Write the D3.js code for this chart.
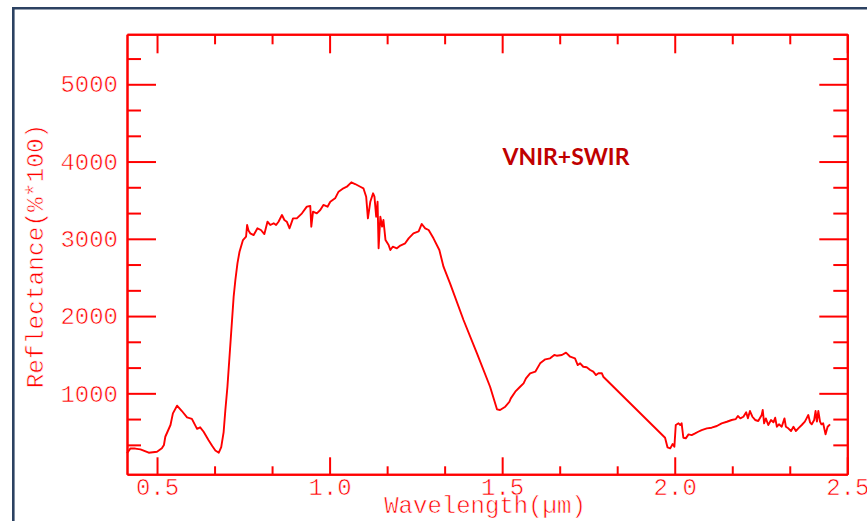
<!DOCTYPE html>
<html>
<head>
<meta charset="utf-8">
<script src="https://cdn.jsdelivr.net/npm/d3@7"></script>
<style>
  html, body { margin: 0; padding: 0; background: #ffffff; overflow: hidden; }
  svg { display: block; }
</style>
</head>
<body>
<svg id="chart" width="867" height="521"></svg>
<script>
// Reflectance spectrum, VNIR + SWIR range
const wavelength = [
  0.413,0.423,0.437,0.452,0.476,0.500,0.514,0.520,0.524,0.539,
  0.546,0.558,0.572,0.587,0.601,0.616,0.625,0.635,0.649,0.660,
  0.669,0.679,0.686,0.693,0.698,0.704,0.712,0.722,0.727,0.733,
  0.739,0.749,0.758,0.761,0.765,0.770,0.780,0.791,0.801,0.811,
  0.820,0.828,0.838,0.845,0.852,0.862,0.869,0.876,0.884,0.894,
  0.905,0.920,0.934,0.944,0.947,0.952,0.963,0.973,0.982,0.994,
  1.002,1.016,1.026,1.040,1.050,1.063,1.074,1.089,1.098,1.106,
  1.111,1.118,1.126,1.130,1.135,1.139,1.142,1.147,1.152,1.156,
  1.162,1.171,1.176,1.183,1.195,1.205,1.219,1.229,1.243,1.258,
  1.267,1.277,1.287,1.301,1.318,1.330,1.349,1.388,1.427,1.465,
  1.485,1.494,1.509,1.521,1.525,1.538,1.552,1.562,1.569,1.581,
  1.596,1.610,1.625,1.639,1.651,1.658,1.673,1.685,1.697,1.711,
  1.719,1.726,1.735,1.745,1.755,1.764,1.772,1.779,1.789,1.793,
  1.972,1.979,1.987,1.994,1.999,2.003,2.011,2.016,2.020,2.025,
  2.032,2.040,2.049,2.059,2.068,2.078,2.093,2.107,2.122,2.136,
  2.151,2.165,2.177,2.183,2.190,2.199,2.207,2.212,2.218,2.225,
  2.233,2.242,2.252,2.255,2.259,2.264,2.271,2.279,2.286,2.291,
  2.296,2.302,2.310,2.318,2.322,2.329,2.337,2.344,2.351,2.358,
  2.368,2.377,2.382,2.387,2.392,2.397,2.404,2.408,2.412,2.416,
  2.421,2.425,2.430,2.437,2.443,2.450
];
const reflectance = [
  225,288,285,275,231,244,288,331,438,590,
  741,840,771,689,670,540,560,503,395,318,
  260,231,305,499,784,1085,1603,2250,2467,2683,
  2833,2984,3027,3179,3107,3071,3049,3136,3114,3062,
  3221,3179,3201,3179,3221,3308,3243,3221,3136,3265,
  3265,3330,3416,3425,3157,3351,3330,3373,3438,3416,
  3480,3524,3610,3654,3674,3731,3709,3674,3654,3545,
  3265,3480,3589,3545,3286,3480,2877,3286,3157,3243,
  2984,2920,2855,2898,2877,2913,2942,3006,3071,3095,
  3192,3136,3114,3006,2855,2639,2424,1949,1517,1085,
  793,784,827,891,935,1021,1085,1129,1194,1259,
  1280,1388,1440,1453,1496,1487,1496,1526,1474,1453,
  1366,1388,1344,1337,1302,1280,1237,1259,1259,1215,
  425,301,288,344,309,590,612,590,612,425,
  417,469,460,482,503,525,547,555,577,612,
  632,655,667,706,676,697,754,676,771,697,
  655,642,719,784,612,676,590,655,625,684,
  568,599,568,676,568,547,512,568,512,547,
  590,634,676,719,625,599,655,771,634,771,
  634,599,612,469,568,599
];

const xMajorTicks = [0.5, 1.0, 1.5, 2.0, 2.5];
const xTickLabels = ["0.5", "1.0", "1.5", "2.0", "2.5"];
const xMinorTicks = [0.6667, 0.8333, 1.1667, 1.3333, 1.6667, 1.8333, 2.1667, 2.3333];
const yMajorTicks = [1000, 2000, 3000, 4000, 5000];
const yTickLabels = ["1000", "2000", "3000", "4000", "5000"];
const yMinorTicks = [333, 667, 1333, 1667, 2333, 2667, 3333, 3667, 4333, 4667, 5333];

const xTitle = "Wavelength(\u00b5m)";
const yTitle = "Reflectance(%*100)";
const plotLabel = "VNIR+SWIR";

const RED = "#ff0000";
const MONO = "'Courier New', 'Liberation Mono', monospace";

const svg = d3.select("#chart");

// outer frame edges
svg.append("line").attr("x1", 12).attr("x2", 867).attr("y1", 8.3).attr("y2", 8.3)
  .attr("stroke", "#2c4262").attr("stroke-width", 2.6);
svg.append("line").attr("x1", 13.3).attr("x2", 13.3).attr("y1", 7).attr("y2", 521)
  .attr("stroke", "#2c4262").attr("stroke-width", 2.6);

const plot = { left: 127, right: 847.3, top: 34.3, bottom: 474.3 };
const x = d3.scaleLinear().domain([0.413, 2.5]).range([plot.left, plot.right]);
const y = d3.scaleLinear().domain([-48, 5647]).range([plot.bottom, plot.top]);

// thin mono lettering: a fine white outline trims the glyph strokes
function monoText(sel, size) {
  sel.attr("fill", RED).attr("font-family", MONO).attr("font-size", size)
    .attr("stroke", "#ffffff").attr("stroke-width", 0.6);
}

function styleAxis(g) {
  g.selectAll("path.domain").attr("stroke", RED).attr("stroke-width", 2);
  g.selectAll(".tick line").attr("stroke", RED).attr("stroke-width", 2);
  g.selectAll("text").call(monoText, 24);
}

// bottom axis
svg.append("g").attr("transform", `translate(0,${plot.bottom})`)
  .call(d3.axisBottom(x).tickValues(xMajorTicks).tickSizeInner(-17).tickSizeOuter(0)
    .tickPadding(4).tickFormat((d, i) => xTickLabels[i]))
  .call(styleAxis);
svg.append("g").attr("transform", `translate(0,${plot.bottom})`)
  .call(d3.axisBottom(x).tickValues(xMinorTicks).tickSizeInner(-8).tickSizeOuter(0).tickFormat(""))
  .call(styleAxis);

// top axis
svg.append("g").attr("transform", `translate(0,${plot.top})`)
  .call(d3.axisTop(x).tickValues(xMajorTicks).tickSizeInner(-19).tickSizeOuter(0).tickFormat(""))
  .call(styleAxis);
svg.append("g").attr("transform", `translate(0,${plot.top})`)
  .call(d3.axisTop(x).tickValues(xMinorTicks).tickSizeInner(-10).tickSizeOuter(0).tickFormat(""))
  .call(styleAxis);

// left axis
svg.append("g").attr("transform", `translate(${plot.left},0)`)
  .call(d3.axisLeft(y).tickValues(yMajorTicks).tickSizeInner(-29).tickSizeOuter(0)
    .tickPadding(9).tickFormat((d, i) => yTickLabels[i]))
  .call(styleAxis);
svg.append("g").attr("transform", `translate(${plot.left},0)`)
  .call(d3.axisLeft(y).tickValues(yMinorTicks).tickSizeInner(-14).tickSizeOuter(0).tickFormat(""))
  .call(styleAxis);

// right axis
svg.append("g").attr("transform", `translate(${plot.right},0)`)
  .call(d3.axisRight(y).tickValues(yMajorTicks).tickSizeInner(-28).tickSizeOuter(0).tickFormat(""))
  .call(styleAxis);
svg.append("g").attr("transform", `translate(${plot.right},0)`)
  .call(d3.axisRight(y).tickValues(yMinorTicks).tickSizeInner(-14).tickSizeOuter(0).tickFormat(""))
  .call(styleAxis);

// spectrum
const points = d3.zip(wavelength, reflectance);
svg.append("path")
  .datum(points)
  .attr("fill", "none")
  .attr("stroke", RED)
  .attr("stroke-width", 1.9)
  .attr("stroke-linejoin", "round")
  .attr("d", d3.line().x(d => x(d[0])).y(d => y(d[1])));

// axis titles
svg.append("text")
  .attr("x", 485).attr("y", 513)
  .attr("text-anchor", "middle")
  .call(monoText, 24)
  .text(xTitle);
svg.append("text")
  .attr("transform", "translate(43,256) rotate(-90)")
  .attr("text-anchor", "middle")
  .call(monoText, 24.5)
  .text(yTitle);

// in-plot label
svg.append("text")
  .attr("x", 566).attr("y", 165)
  .attr("text-anchor", "middle")
  .attr("fill", "#c00000").attr("font-family", "Lato, 'Open Sans', sans-serif")
  .attr("font-weight", "bold").attr("font-size", 23)
  .text(plotLabel);
</script>
</body>
</html>
